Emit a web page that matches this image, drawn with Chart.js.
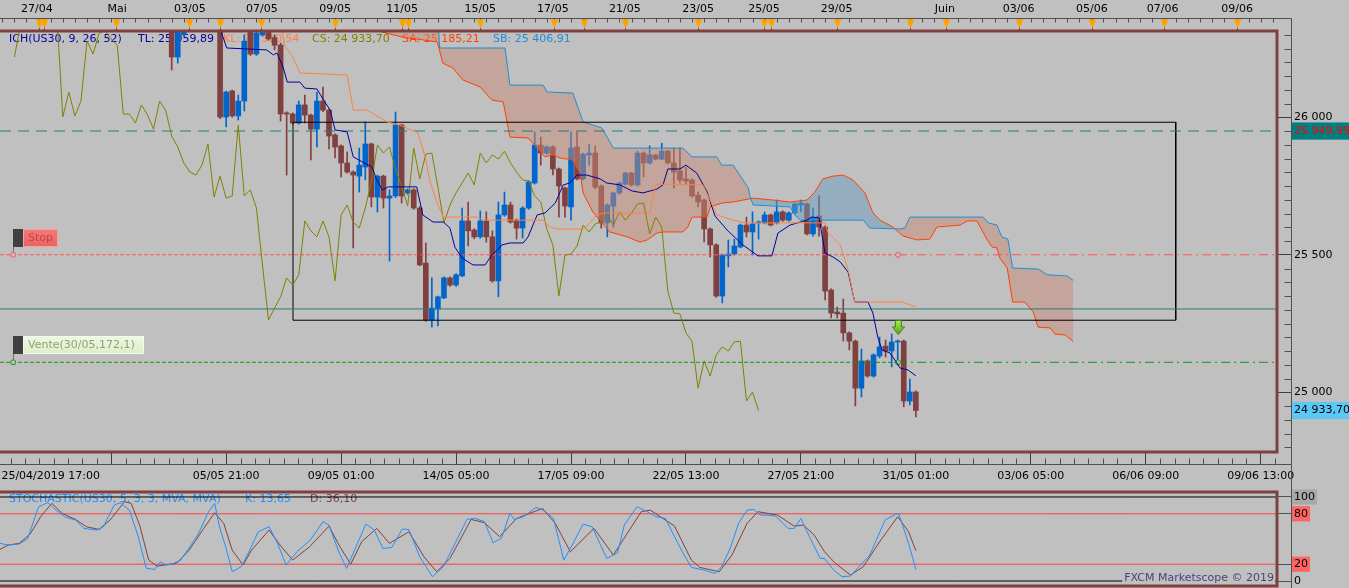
<!DOCTYPE html>
<html><head><meta charset="utf-8">
<script src="https://cdn.jsdelivr.net/npm/chart.js@4.4.1/dist/chart.umd.min.js"></script>
<style>
html,body{margin:0;padding:0;background:#C0C0C0;overflow:hidden;width:1349px;height:588px;}
#main{position:absolute;left:0;top:0;width:1349px;height:488px;}
#stoch{position:absolute;left:0;top:488px;width:1349px;height:100px;}
</style></head><body>
<div id="main"><canvas id="cMain"></canvas></div>
<div id="stoch"><canvas id="cStoch"></canvas></div>
<script>
// ---------------- DATA ----------------
const firstCandle = 10; // index of first candle (4h bars)
const opens = [26350,26219,26300,26345,26380,26400,26370,26390,26380,26001,26096,26005,26059,26330,26230,26299,26325,26290,26263,26016,26012,25979,26045,26008,25957,26059,26026,25936,25896,25834,25801,25786,25819,25903,25710,25786,25706,25714,25972,25725,25736,25670,25470,25263,25303,25343,25416,25390,25423,25623,25590,25565,25623,25565,25405,25645,25681,25626,25597,25670,25761,25899,25870,25892,25812,25743,25674,25892,25776,25863,25870,25750,25616,25677,25725,25757,25797,25754,25870,25834,25863,25848,25877,25834,25805,25776,25772,25717,25699,25594,25536,25350,25496,25503,25528,25608,25583,25616,25616,25645,25616,25656,25626,25652,25681,25685,25576,25641,25601,25372,25292,25288,25216,25186,25015,25114,25059,25132,25168,25150,25183,25186,24968,25001];
const highs = [26370,26360,26370,26400,26420,26420,26410,26400,26395,26095,26099,26081,26300,26350,26320,26330,26340,26300,26270,26020,26016,26059,26081,26012,26092,26110,26030,25940,25900,25874,25805,25888,25983,25906,25790,25790,25736,26019,25975,25740,25740,25675,25543,25416,25350,25420,25420,25432,25670,25692,25595,25659,25656,25587,25692,25728,25692,25630,25675,25770,25947,25928,25896,25896,25815,25746,25947,25947,25870,25903,25896,25754,25685,25728,25765,25800,25800,25877,25874,25896,25866,25906,25880,25888,25888,25819,25776,25728,25703,25598,25540,25503,25554,25557,25612,25637,25656,25623,25656,25648,25699,25660,25656,25688,25699,25688,25670,25714,25605,25376,25310,25339,25220,25190,25157,25118,25140,25201,25190,25212,25190,25190,25048,25005];
const lows = [26172,26197,26295,26318,26360,26350,26355,26360,25995,25965,26000,25990,26023,26225,26225,26295,26280,26245,25986,25790,25975,25975,25979,25845,25892,26020,25885,25852,25783,25797,25525,25728,25772,25674,25656,25670,25477,25708,25688,25720,25665,25460,25258,25237,25241,25340,25385,25385,25420,25532,25558,25560,25546,25400,25347,25640,25615,25557,25561,25665,25757,25826,25866,25790,25637,25637,25626,25772,25772,25826,25740,25597,25565,25601,25720,25754,25750,25750,25783,25830,25845,25845,25830,25743,25761,25754,25710,25674,25547,25492,25345,25325,25456,25499,25525,25565,25499,25557,25612,25605,25612,25622,25622,25648,25656,25572,25568,25568,25336,25270,25270,25186,25154,24950,24983,25055,25055,25125,25128,25092,25099,24947,24954,24910];
const closes = [26219,26335,26345,26380,26400,26370,26390,26380,26001,26092,26005,26059,26277,26230,26306,26314,26285,26262,26012,26012,25979,26045,26008,25957,26059,26026,25932,25892,25834,25801,25790,25826,25903,25710,25786,25706,25714,25972,25714,25736,25670,25463,25263,25306,25347,25416,25390,25427,25623,25587,25565,25623,25565,25405,25645,25681,25619,25597,25670,25765,25899,25870,25892,25812,25750,25677,25888,25776,25866,25870,25746,25616,25681,25725,25761,25797,25754,25870,25834,25863,25848,25877,25834,25801,25772,25768,25714,25692,25594,25536,25350,25499,25503,25532,25608,25583,25612,25619,25645,25608,25656,25626,25652,25685,25688,25576,25637,25601,25368,25288,25285,25216,25186,25015,25114,25059,25136,25165,25150,25183,25186,24968,25001,24933.7];

// Ichimoku lines [index, value]
const tenkan = [[17.5,26354],[19.1,26252],[25.7,26245],[26.8,26227],[27.4,26234],[28.4,26183],[29.1,26128],[31.2,26128],[32,26106],[34,26103],[35.3,26056],[36.2,26026],[37,25954],[39,25947],[40,25856],[43.1,25819],[43.9,25772],[44.8,25736],[45.8,25747],[50.5,25747],[51.5,25645],[53.2,25619],[54.9,25619],[56,25597],[56.8,25528],[58,25488],[59.8,25463],[61.8,25463],[62.9,25499],[63.8,25517],[64.6,25536],[65.9,25543],[68.1,25543],[68.9,25565],[70.4,25645],[71.7,25652],[73.4,25688],[74.7,25754],[75.8,25761],[77,25790],[78.6,25790],[80.8,25776],[81.9,25761],[84.1,25754],[86.1,25732],[87.9,25725],[90.2,25739],[91.2,25754],[92,25812],[94,25812],[95,25826],[96.8,25797],[98.5,25728],[99.8,25641],[101.8,25590],[104.4,25536],[106.9,25496],[109.2,25496],[110.2,25579],[112.2,25608],[115,25626],[115.8,25637],[117,25634],[118,25506],[119.3,25492],[120.5,25474],[121.8,25437],[122.9,25328],[125.1,25328],[125.9,25288],[126.7,25201],[127.4,25154],[128.7,25143],[129.9,25106],[130.4,25088],[131.7,25081],[133,25059.89]];
const kijun = [[27.9,26354],[28.7,26259],[30.1,26216],[31.2,26161],[39,26154],[40,26026],[42.3,26026],[45.6,25983],[47.7,25972],[50.7,25943],[51.9,25856],[52.7,25765],[53.9,25688],[54.9,25637],[60.5,25637],[61.5,25626],[71.4,25626],[72.5,25601],[73.7,25594],[78,25594],[78.8,25608],[80.3,25645],[81.3,25652],[89,25652],[89.9,25746],[90.2,25757],[97.8,25754],[98.6,25717],[100.1,25645],[102.8,25626],[104.8,25616],[118,25616],[118.5,25579],[120.5,25536],[121.8,25445],[122.9,25328],[130.7,25328],[133,25310.54]];
const senkouA = [[42,26372],[44,26314],[48.1,26292],[53.9,26274],[54.8,26197],[56.5,26179],[58.1,26136],[61,26110],[62.9,26063],[64.8,26056],[65.9,25928],[68.9,25925],[70,25899],[71.7,25856],[73,25863],[74.2,25852],[76.2,25845],[77.5,25797],[78,25725],[79.6,25656],[82.4,25583],[85.3,25565],[87.4,25546],[88.6,25554],[90.2,25579],[91.2,25583],[94.5,25583],[95.3,25601],[96,25637],[98.5,25637],[99,25674],[100.9,25688],[102.8,25692],[106.1,25706],[109.4,25699],[112.2,25692],[115,25699],[116.3,25728],[117.6,25776],[119.3,25786],[121,25790],[122.6,25772],[124.6,25725],[125.9,25652],[127.1,25626],[129.2,25601],[130.9,25568],[133.2,25554],[135.3,25557],[136.5,25601],[140.3,25608],[141.5,25623],[143.1,25623],[144.8,25554],[145.6,25528],[146.4,25525],[146.9,25488],[148.1,25452],[149,25328],[151,25328],[152.4,25292],[153.2,25237],[155.2,25234],[156,25212],[157.7,25208],[159,25185.21]];
const senkouB = [[42,26408],[54,26354],[54.3,26252],[65.1,26252],[65.9,26117],[71.4,26117],[72,26092],[76.3,26088],[78,25983],[81.1,25961],[83,25888],[94.5,25888],[96,25856],[100.1,25856],[100.9,25826],[102.8,25826],[105.3,25743],[105.6,25710],[106.1,25681],[112.2,25674],[113,25645],[113.9,25626],[124.3,25626],[125.4,25597],[130.4,25594],[131.2,25597],[132,25637],[144.1,25637],[145,25616],[146.4,25608],[147.2,25565],[148.2,25557],[149,25452],[153.2,25448],[154.8,25427],[158,25423],[159,25406.91]];
const chikouShift = 26;

// Stochastic [index, value]
const stochK = [[-18.4,44.8],[-17.0,42.8],[-15.2,44],[-13.8,50.7],[-12.0,88.4],[-10.5,93.2],[-9.1,84.4],[-7.7,76.5],[-5.9,72.5],[-4.5,62.6],[-2.4,60.6],[-1.3,64.6],[0.5,90.4],[1.5,93.2],[3.0,84.4],[4.4,54.7],[5.8,15],[7.2,13.8],[8.1,22.9],[9.0,19],[10.1,20.1],[11.5,24.9],[14.3,54.7],[16.1,82.5],[17.1,92.4],[17.9,64.6],[19.0,38.8],[20.0,11],[21.5,17],[22.9,36.8],[24.3,58.6],[26.1,64.6],[27.5,44.8],[28.9,19],[30.7,34.8],[32.9,48.7],[35.0,70.6],[36.0,66.6],[37.5,36.8],[38.9,15],[40.7,44.8],[42.1,67.8],[43.5,60.6],[44.9,38.8],[46.4,40],[48.1,61.8],[49.2,61.4],[51.0,28.9],[53.1,5],[54.9,17],[58.8,73.3],[60.2,74.5],[61.7,70.6],[63.1,45.6],[64.5,50.7],[65.9,80.5],[66.6,73.3],[68.1,76.5],[70.2,87.6],[71.6,83.7],[73.1,74.5],[74.8,24.9],[76.2,42.8],[78.0,67.8],[79.5,64.6],[81.9,26.9],[83.7,33.6],[84.8,66.6],[86.9,88.4],[88.3,83.7],[90.1,76.5],[91.6,74.5],[93.1,53],[94.4,34.8],[95.9,16.2],[98.0,13],[99.8,9],[100.9,17],[102.3,38.8],[103.7,68.6],[105.1,84.4],[106.2,85.2],[107.3,78.5],[108.3,78.5],[109.8,77.3],[111.9,62.6],[112.9,62.6],[114.0,74.5],[115.4,52.7],[117.2,26.9],[117.9,26.9],[119.4,13],[120.8,5.1],[122.2,5.9],[123.6,17],[125.4,30.9],[127.9,72.5],[129.7,79.7],[130.2,79.7],[131.8,44.8],[133,13.65]];
const stochD = [[-18.4,37.6],[-17.0,42.8],[-15.2,44.8],[-13.4,55.9],[-11.6,77.3],[-9.8,92.4],[-8.1,80.5],[-5.9,73.3],[-4.1,64.6],[-2.0,61.4],[-0.2,72.5],[2.2,94.4],[3.3,92.4],[4.7,66.6],[6.2,24.9],[7.6,17.8],[10.8,21],[12.9,36.8],[15.1,60.6],[17.1,81.3],[18.6,68.6],[20.0,36.8],[21.8,19],[23.2,36.8],[26.1,60.6],[27.9,42.8],[30.0,24.9],[32.8,40.8],[36.0,65.4],[37.8,40.8],[39.6,20.1],[41.4,46.8],[43.9,62.6],[46.0,44.8],[49.2,58.6],[51.7,28.9],[53.8,11],[56.0,26.9],[59.5,73.3],[61.7,69.4],[64.2,52.7],[67.0,74.5],[71.3,86.4],[73.4,68.6],[75.9,34.8],[79.8,62.6],[83.0,30.9],[87.6,82.5],[89.1,84.4],[93.1,65.5],[95.9,24.9],[97.3,16.2],[100.5,11],[102.6,30.9],[105.1,68.6],[106.9,82.5],[110.1,78.5],[112.9,65.4],[114.4,66.6],[116.2,54.7],[117.9,34.8],[119.7,21],[122.2,7.1],[124.3,17],[127.2,48.7],[130.0,76.5],[131.8,58.6],[133,36.1]];
const stochLevels = [100, 80, 20, 0];

// Horizontal levels / objects
const resistanceLevel = 25949.99;
const supportLevel = 25303;
const stopLevel = 25500;
const sellLevel = 25109;
const orderMarks = [-16.2, 130.05];         // little circles on the order lines
const boxRange = {x0: 30.05, x1: 175.95, top: 25982, bottom: 25262};
const sellArrow = [130.1, 25236];
const lastPrice = 24933.7;

// Axis labels
const priceMajor = [25000, 25500, 26000];
const bottomTickPos = [-10, 0, 19, 38, 57, 76, 95, 114, 133, 152, 171, 190];
const bottomTickText = ['25/04/2019 17:00','','05/05 21:00','09/05 01:00','14/05 05:00','17/05 09:00','22/05 13:00','27/05 21:00','31/05 01:00','03/06 05:00','06/06 09:00','09/06 13:00'];
const topDatePos = [-12.3, 1.0, 13.0, 24.9, 37.0, 48.1, 61.0, 73.0, 84.9, 97.0, 107.9, 119.9, 137.8, 150.0, 162.1, 173.8, 186.1];
const topDateText = ['27/04','Mai','03/05','07/05','09/05','11/05','15/05','17/05','21/05','23/05','25/05','29/05','Juin','03/06','05/06','07/06','09/06'];
const eventPos = [-11.9, -11.1, 0.8, 12.9, 18.0, 24.8, 37.0, 48.1, 49.1, 61.0, 73.2, 78.2, 84.9, 97.0, 107.9, 109.1, 119.9, 132.0, 137.9, 150.0, 162.1, 174.0, 186.1];

// ---------------- SETUP ----------------
const X_MIN = -18.38, X_MAX = 192.69;
const Y_MIN = 24782.8, Y_MAX = 26313.8;
const FONT = '"DejaVu Sans", sans-serif';
Chart.defaults.font.family = FONT;
Chart.defaults.font.size = 11;
Chart.defaults.color = '#000000';
Chart.defaults.animation = false;
Chart.defaults.events = [];
Chart.defaults.plugins.legend.display = false;
Chart.defaults.plugins.tooltip.enabled = false;

const UP = '#0066CC', DN = '#804040';
const fmt = (v, dec) => {
  const s = Number(v).toFixed(dec);
  const [a, b] = s.split('.');
  const ai = a.replace(/\B(?=(\d{3})+(?!\d))/g, ' ');
  return b ? ai + ',' + b : ai;
};
const xy = arr => arr.map(([x, y]) => ({x, y}));
const line = (data, color, extra) => Object.assign({type:'line', data, borderColor:color, borderWidth:1, pointRadius:0, fill:false, tension:0}, extra || {});
const hl = (y, x0, x1) => [{x:x0, y}, {x:x1, y}];

const idx = opens.map((_, k) => firstCandle + k);
const candleColors = opens.map((o, k) => closes[k] >= o ? UP : DN);

function makeArrow() {
  const c = document.createElement('canvas'); c.width = 13; c.height = 15;
  const g = c.getContext('2d');
  const grad = g.createLinearGradient(0, 0, 0, 15);
  grad.addColorStop(0, '#B8EC5C'); grad.addColorStop(1, '#4E9C16');
  g.fillStyle = grad; g.strokeStyle = '#3E8010'; g.lineWidth = 1;
  g.beginPath(); g.moveTo(3.5, 0.5); g.lineTo(9.5, 0.5); g.lineTo(9.5, 7); g.lineTo(12.5, 7);
  g.lineTo(6.5, 14.5); g.lineTo(0.5, 7); g.lineTo(3.5, 7); g.closePath(); g.fill(); g.stroke();
  return c;
}

const datasets = [];
datasets.push({type:'bar', data: idx.map((x, k) => ({x, y:[lows[k], highs[k]]})), backgroundColor: candleColors, barThickness: 1, grouped: false, order: 20});
datasets.push({type:'bar', data: idx.map((x, k) => ({x, y:[opens[k], closes[k]]})), backgroundColor: candleColors, barThickness: 5, grouped: false, minBarLength: 1, order: 19});
const sbIndex = datasets.length + 1;
datasets.push(line(xy(senkouA), '#FF4000', {fill:{target: sbIndex, above:'rgba(104,156,190,0.5)', below:'rgba(200,138,118,0.5)'}, order: 8}));
datasets.push(line(xy(senkouB), '#1E8FD2', {order: 7}));
datasets.push(line(hl(resistanceLevel, X_MIN, X_MAX), '#1F7F7F', {borderDash:[11,7], order: 6}));
datasets.push(line(hl(supportLevel, X_MIN, X_MAX), '#2A7A7A', {order: 6}));
datasets.push(line([{x:boxRange.x0,y:boxRange.top},{x:boxRange.x1,y:boxRange.top},{x:boxRange.x1,y:boxRange.bottom},{x:boxRange.x0,y:boxRange.bottom},{x:boxRange.x0,y:boxRange.top}], '#000000', {order: 6}));
datasets.push(line([{x:X_MIN,y:stopLevel},{x:orderMarks[0],y:stopLevel},{x:orderMarks[1],y:stopLevel}], '#FF5555', {borderDash:[4,2], pointRadius:[0,2.5,2.5], pointBorderColor:'#FF5555', pointBackgroundColor:'#C0C0C0', pointBorderWidth:1, order: 6}));
datasets.push(line(hl(stopLevel, orderMarks[1], X_MAX), '#FF5555', {borderDash:[9,4,2,4], order: 6}));
datasets.push(line([{x:X_MIN,y:sellLevel},{x:orderMarks[0],y:sellLevel},{x:orderMarks[1],y:sellLevel}], '#129612', {borderDash:[4,2], pointRadius:[0,2.5,2.5], pointBorderColor:'#129612', pointBackgroundColor:'#C0C0C0', pointBorderWidth:1, order: 6}));
datasets.push(line(hl(sellLevel, orderMarks[1], X_MAX), '#129612', {borderDash:[9,4,2,4], order: 6}));
datasets.push(line(idx.map((x, k) => ({x: x - chikouShift, y: closes[k]})), '#808000', {order: 5}));
datasets.push(line(xy(tenkan), '#0000A0', {order: 4}));
datasets.push(line(xy(kijun), '#FF8040', {order: 3}));
datasets.push({type:'line', data:[{x:sellArrow[0], y:sellArrow[1]}], showLine:false, pointStyle: makeArrow(), pointRadius: 7, order: 1});

const last = a => a[a.length - 1][1];
const legendItems = [
  {t:'ICH(US30, 9, 26, 52)', c:'#0000A0', x:9},
  {t:'TL: ' + fmt(last(tenkan), 2), c:'#0000A0', x:138},
  {t:'KL: ' + fmt(last(kijun), 2), c:'#FF8040', x:223},
  {t:'CS: ' + fmt(closes[closes.length-1], 2), c:'#808000', x:312},
  {t:'SA: ' + fmt(last(senkouA), 2), c:'#FF4000', x:402},
  {t:'SB: ' + fmt(last(senkouB), 2), c:'#1E8FD2', x:493}
];

function orderTag(ctx, x, yLine, w, text, bg1, bg2, border, txt) {
  const h = 18, top = Math.round(yLine) - 8 - h;
  ctx.strokeStyle = '#707070'; ctx.lineWidth = 1;
  ctx.beginPath(); ctx.moveTo(x + 0.5, top + h); ctx.lineTo(x + 0.5, yLine - 2.5); ctx.stroke();
  ctx.fillStyle = '#404040'; ctx.fillRect(x, top, 10, h);
  const g = ctx.createLinearGradient(0, top, 0, top + h);
  g.addColorStop(0, bg1); g.addColorStop(1, bg2);
  ctx.fillStyle = g; ctx.fillRect(x + 10, top, w - 10, h);
  ctx.strokeStyle = border; ctx.strokeRect(x + 10.5, top + 0.5, w - 11, h - 1);
  ctx.fillStyle = txt; ctx.textBaseline = 'middle'; ctx.textAlign = 'left';
  ctx.fillText(text, x + 15, top + h / 2 + 0.5);
}

function frame(ctx, a) {
  ctx.strokeStyle = '#804040'; ctx.lineWidth = 3;
  ctx.beginPath();
  ctx.moveTo(a.left, a.top); ctx.lineTo(a.right, a.top); ctx.lineTo(a.right, a.bottom); ctx.lineTo(a.left, a.bottom);
  ctx.stroke();
}

const mainDecor = {
  id: 'mainDecor',
  beforeDatasetsDraw(chart) {
    const {ctx, chartArea: a} = chart;
    ctx.save();
    ctx.font = '11px ' + FONT; ctx.textBaseline = 'middle'; ctx.textAlign = 'left';
    for (const it of legendItems) { ctx.fillStyle = it.c; ctx.fillText(it.t, a.left + it.x, a.top + 8.5); }
    ctx.restore();
  },
  afterDraw(chart) {
    const {ctx, chartArea: a} = chart;
    const xs = chart.scales.x, ys = chart.scales.y;
    const axisX = Math.round(a.right) + 14.5;
    const rulerTop = a.top - 12.5, rulerBot = a.bottom + 12.5;
    ctx.save();
    ctx.strokeStyle = '#505050'; ctx.lineWidth = 1;
    ctx.beginPath();
    ctx.moveTo(0, rulerTop); ctx.lineTo(axisX, rulerTop);
    ctx.lineTo(axisX, chart.height);
    ctx.moveTo(0, rulerBot); ctx.lineTo(axisX, rulerBot);
    for (let v = -18; v <= X_MAX; v += 2) {
      const px = Math.round(xs.getPixelForValue(v)) + 0.5;
      ctx.moveTo(px, rulerTop); ctx.lineTo(px, rulerTop + 4);
    }
    for (let k = -7; k * 19 / 8 <= X_MAX; k++) {
      if (k % 8 === 0) continue;
      const px = Math.round(xs.getPixelForValue(k * 19 / 8)) + 0.5;
      ctx.moveTo(px, rulerBot - 6); ctx.lineTo(px, rulerBot);
    }
    for (let v = 24800; v <= 26300; v += 50) {
      if (v % 500 === 0) continue;
      const py = Math.round(ys.getPixelForValue(v)) + 0.5;
      ctx.moveTo(axisX - 7, py); ctx.lineTo(axisX, py);
    }
    ctx.stroke();
    // event markers
    for (const ev of eventPos) {
      const px = Math.round(xs.getPixelForValue(ev)) + 0.5;
      ctx.strokeStyle = '#505050';
      ctx.beginPath(); ctx.moveTo(px, rulerTop); ctx.lineTo(px, a.top); ctx.stroke();
      ctx.fillStyle = '#FFA200';
      ctx.beginPath(); ctx.moveTo(px - 4, rulerTop + 1); ctx.lineTo(px + 4, rulerTop + 1); ctx.lineTo(px, rulerTop + 10); ctx.closePath(); ctx.fill();
    }
    frame(ctx, a);
    // order tags
    ctx.font = '11px ' + FONT;
    orderTag(ctx, a.left + 13, ys.getPixelForValue(stopLevel), 45, 'Stop', '#F47A7A', '#EC6262', '#F8A0A0', '#C44646');
    orderTag(ctx, a.left + 13, ys.getPixelForValue(sellLevel), 131, 'Vente(30/05,172,1)', '#F0F8E8', '#DCEEC6', '#F4FAEC', '#8FA274');
    ctx.restore();
  }
};

const tagValues = [resistanceLevel, lastPrice];
new Chart(document.getElementById('cMain'), {
  type: 'line',
  data: {datasets},
  options: {
    responsive: true, maintainAspectRatio: false, animation: false,
    layout: {padding: 0, autoPadding: false},
    plugins: {legend:{display:false}, tooltip:{enabled:false}},
    scales: {
      x: {
        type:'linear', position:'bottom', min:X_MIN, max:X_MAX, offset:false,
        afterBuildTicks: s => { s.ticks = bottomTickPos.map(v => ({value: v})); },
        afterFit: s => { s.height = 36; s.paddingLeft = 0; s.paddingRight = 0; },
        ticks: {autoSkip:false, maxRotation:0, minRotation:0, padding:6, color:'#000000', callback: (v, i) => bottomTickText[i]},
        grid: {offset:false, drawOnChartArea:false, tickLength:12, tickColor: c => c.index === 0 ? 'rgba(0,0,0,0)' : '#404040'},
        border: {display:false}
      },
      xt: {
        type:'linear', position:'top', min:X_MIN, max:X_MAX, offset:false,
        afterBuildTicks: s => { s.ticks = topDatePos.map(v => ({value: v})); },
        afterFit: s => { s.height = 31; s.paddingLeft = 0; s.paddingRight = 0; },
        ticks: {autoSkip:false, maxRotation:0, minRotation:0, padding:2, color:'#000000', callback: (v, i) => topDateText[i]},
        grid: {offset:false, drawOnChartArea:false, tickLength:13, tickColor:'rgba(0,0,0,0)'},
        border: {display:false}
      },
      y: {
        type:'linear', position:'right', min:Y_MIN, max:Y_MAX,
        afterBuildTicks: s => { s.ticks = priceMajor.concat(tagValues).map(v => ({value: v})); },
        afterFit: s => { s.width = 72; s.paddingTop = 0; s.paddingBottom = 0; },
        ticks: {
          autoSkip:false, padding:3,
          callback: v => tagValues.includes(v) ? fmt(v, 2) : fmt(v, 0),
          color: c => c.tick && c.tick.value === resistanceLevel ? '#FF0000' : '#000000',
          showLabelBackdrop: true,
          backdropColor: c => !c.tick ? 'rgba(0,0,0,0)' : c.tick.value === resistanceLevel ? '#008080' : c.tick.value === lastPrice ? '#5CC8F8' : 'rgba(0,0,0,0)',
          backdropPadding: {left:2, right:14, top:2, bottom:2}
        },
        grid: {drawOnChartArea:false, tickLength:14, tickColor: c => c.tick && priceMajor.includes(c.tick.value) ? '#404040' : 'rgba(0,0,0,0)'},
        border: {display:false}
      }
    }
  },
  plugins: [mainDecor]
});

// ---------------- STOCHASTIC ----------------
const stochSets = [];
stochSets.push(line(xy(stochK), '#1E90FF', {order: 1}));
stochSets.push(line(xy(stochD), '#804040', {order: 2}));
for (const lv of stochLevels) {
  stochSets.push(line(hl(lv, X_MIN, X_MAX), (lv === 0 || lv === 100) ? '#000000' : '#FF4040', {order: 5}));
}
const stochDecor = {
  id: 'stochDecor',
  beforeDatasetsDraw(chart) {
    const {ctx, chartArea: a} = chart;
    ctx.save();
    ctx.font = '11px ' + FONT; ctx.textBaseline = 'middle'; ctx.textAlign = 'left';
    ctx.fillStyle = '#1E90FF';
    ctx.fillText('STOCHASTIC(US30, 5, 3, 3, MVA, MVA)', a.left + 9, a.top + 7);
    ctx.fillText('K: ' + fmt(last(stochK), 2), a.left + 245, a.top + 7);
    ctx.fillStyle = '#804040';
    ctx.fillText('D: ' + fmt(last(stochD), 2), a.left + 310, a.top + 7);
    ctx.restore();
  },
  afterDraw(chart) {
    const {ctx, chartArea: a} = chart;
    const axisX = Math.round(a.right) + 14.5;
    ctx.save();
    ctx.strokeStyle = '#505050'; ctx.lineWidth = 1;
    ctx.beginPath(); ctx.moveTo(axisX, 0); ctx.lineTo(axisX, chart.height); ctx.stroke();
    ctx.font = '11px ' + FONT; ctx.textBaseline = 'middle';
    const fx = 'FXCM Marketscope © 2019';
    const w = ctx.measureText(fx).width;
    ctx.fillStyle = '#C0C0C0'; ctx.fillRect(a.right - 3 - w - 2, a.bottom - 14, w + 3, 11);
    ctx.fillStyle = '#4B3F7E'; ctx.textAlign = 'right'; ctx.fillText(fx, a.right - 3, a.bottom - 8);
    frame(ctx, a);
    ctx.restore();
  }
};
new Chart(document.getElementById('cStoch'), {
  type: 'line',
  data: {datasets: stochSets},
  options: {
    responsive: true, maintainAspectRatio: false, animation: false,
    layout: {padding: {top: 4, bottom: 2, left: 0, right: 0}, autoPadding: false},
    plugins: {legend:{display:false}, tooltip:{enabled:false}},
    scales: {
      x: {type:'linear', min:X_MIN, max:X_MAX, display:false},
      y: {
        type:'linear', position:'right', min:-5.95, max:105.95,
        afterBuildTicks: s => { s.ticks = stochLevels.map(v => ({value: v})); },
        afterFit: s => { s.width = 72; s.paddingTop = 0; s.paddingBottom = 0; },
        ticks: {
          autoSkip:false, padding:3, callback: v => String(v),
          showLabelBackdrop: true,
          backdropColor: c => !c.tick ? 'rgba(0,0,0,0)' : c.tick.value === 100 ? '#A8A8A8' : (c.tick.value === 80 || c.tick.value === 20) ? '#FF6464' : 'rgba(0,0,0,0)',
          backdropPadding: {left:2, right:2, top:1, bottom:1}
        },
        grid: {drawOnChartArea:false, tickLength:14, tickColor:'#505050'},
        border: {display:false}
      }
    }
  },
  plugins: [stochDecor]
});
</script>
</body></html>
